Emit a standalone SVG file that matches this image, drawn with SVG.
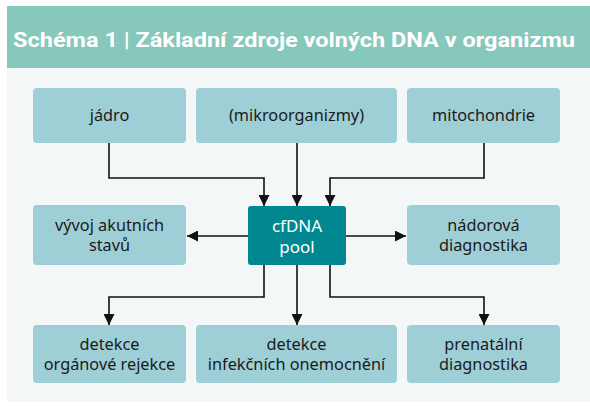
<svg xmlns="http://www.w3.org/2000/svg" width="590" height="406" viewBox="0 0 590 406">
<style>
.box{fill:#9fcfd6;}
.core{fill:#00878f;}
.t{font-family:"Noto Sans","Open Sans",sans-serif;font-size:16.3px;fill:#1a1a1a;text-anchor:middle;}
.tw{font-family:"Noto Sans","Open Sans",sans-serif;font-size:17px;fill:#ffffff;text-anchor:middle;}
.ln{fill:none;stroke:#111;stroke-width:1.6;}
</style>
<defs>
<marker id="ah" viewBox="0 0 10 10" refX="10" refY="5" markerWidth="11" markerHeight="11" markerUnits="userSpaceOnUse" orient="auto">
<path d="M0,0 L10,5 L0,10 z" fill="#111"/>
</marker>
</defs>
<rect x="7" y="68" width="583" height="334" fill="#f3f7f7"/>
<rect x="7" y="6" width="583" height="62" fill="#86c8bb"/>
<text x="13" y="47" font-family="Roboto,'Liberation Sans',sans-serif" font-weight="bold" font-size="21" fill="#ffffff" textLength="562" lengthAdjust="spacingAndGlyphs">Schéma 1 | Základní zdroje volných DNA v organizmu</text>
<g id="connectors">
<path class="ln" d="M109,143 V178 H264 V206" marker-end="url(#ah)"/>
<path class="ln" d="M297,143 V206" marker-end="url(#ah)"/>
<path class="ln" d="M484,143 V178 H330 V206" marker-end="url(#ah)"/>
<path class="ln" d="M248,236 H187" marker-end="url(#ah)"/>
<path class="ln" d="M346,236 H406" marker-end="url(#ah)"/>
<path class="ln" d="M264,265 V297 H109 V325" marker-end="url(#ah)"/>
<path class="ln" d="M297,265 V325" marker-end="url(#ah)"/>
<path class="ln" d="M330,265 V297 H484 V325" marker-end="url(#ah)"/>
</g>
<g id="jadro"><rect class="box" x="33" y="88" width="153" height="55" rx="4"/><text class="t" x="109.5" y="121">jádro</text></g>
<g id="mikro"><rect class="box" x="196" y="88" width="201" height="55" rx="4"/><text class="t" x="296.5" y="121">(mikroorganizmy)</text></g>
<g id="mito"><rect class="box" x="407" y="88" width="153" height="55" rx="4"/><text class="t" x="483.5" y="121">mitochondrie</text></g>
<g id="vyvoj"><rect class="box" x="33" y="205" width="153" height="60" rx="4"/><text class="t" x="109.5" y="231">vývoj akutních</text><text class="t" x="109.5" y="251">stavů</text></g>
<g id="cfdna"><rect class="core" x="248" y="206" width="98" height="59" rx="3"/><text class="tw" x="297" y="232">cfDNA</text><text class="tw" x="297" y="253">pool</text></g>
<g id="nador"><rect class="box" x="407" y="205" width="153" height="60" rx="4"/><text class="t" x="483.5" y="231">nádorová</text><text class="t" x="483.5" y="251">diagnostika</text></g>
<g id="rejekce"><rect class="box" x="33" y="325" width="153" height="58" rx="4"/><text class="t" x="109.5" y="350">detekce</text><text class="t" x="109.5" y="370">orgánové rejekce</text></g>
<g id="infekce"><rect class="box" x="196" y="325" width="201" height="58" rx="4"/><text class="t" x="296.5" y="350">detekce</text><text class="t" x="296.5" y="370">infekčních onemocnění</text></g>
<g id="prenatal"><rect class="box" x="407" y="325" width="153" height="58" rx="4"/><text class="t" x="483.5" y="350">prenatální</text><text class="t" x="483.5" y="370">diagnostika</text></g>
</svg>
